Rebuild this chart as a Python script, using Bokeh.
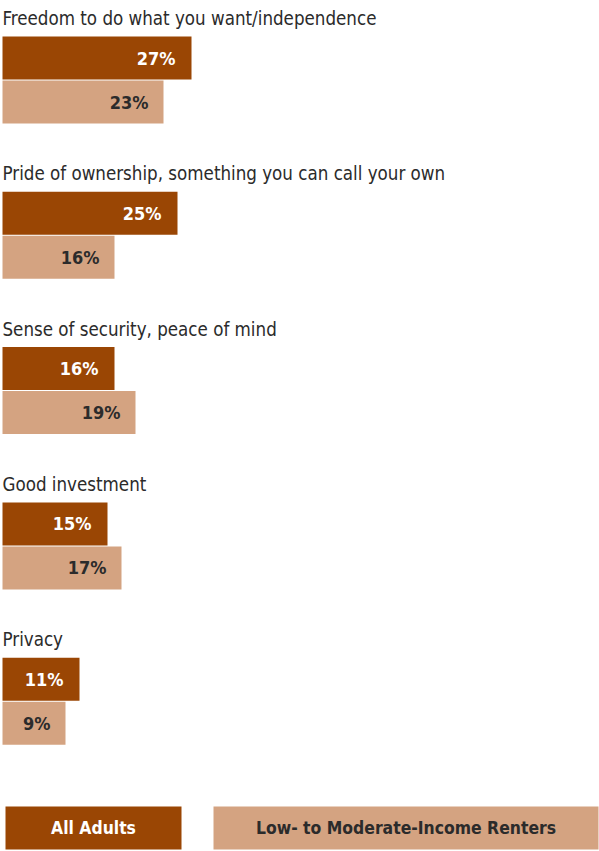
from bokeh.plotting import figure
from bokeh.models import Range1d, ColumnDataSource
from bokeh.core.properties import value
from bokeh.embed import file_html
from bokeh.resources import INLINE

categories = [
    "Freedom to do what you want/independence",
    "Pride of ownership, something you can call your own",
    "Sense of security, peace of mind",
    "Good investment",
    "Privacy",
]
all_adults = [27, 25, 16, 15, 11]
renters = [23, 16, 19, 17, 9]
series_names = ["All Adults", "Low- to Moderate-Income Renters"]

DARK = "#9a4604"
LIGHT = "#d4a381"
TEXT = "#2b2b2b"
FONT = "'DejaVu Sans Condensed', 'Liberation Sans', sans-serif"

W, H = 599, 851
PX_PER_PCT = 7.0
X0 = 2  # pixel where 0% sits


def px(x):
    return (x - X0) / PX_PER_PCT


p = figure(width=W, height=H, output_backend="svg", toolbar_location=None,
           x_range=Range1d(px(0), px(W)), y_range=Range1d(H, 0),
           min_border=0, outline_line_color=None)
p.axis.visible = False
p.grid.visible = False
p.background_fill_color = "white"
p.border_fill_color = "white"

STEP = 155.3
label_y = [18 + i * STEP for i in range(len(categories))]
dark_top = [36 + i * STEP for i in range(len(categories))]
dark_bot = [t + 43 for t in dark_top]
light_top = [t + 44 for t in dark_top]
light_bot = [t + 87 for t in dark_top]

src = ColumnDataSource(dict(
    cat=categories, a=all_adults, r=renters,
    a_lbl=[f"{v}%" for v in all_adults], r_lbl=[f"{v}%" for v in renters],
    ly=label_y, dt=dark_top, db=dark_bot, lt=light_top, lb=light_bot,
    dmid=[(t + b) / 2 for t, b in zip(dark_top, dark_bot)],
    lmid=[(t + b) / 2 for t, b in zip(light_top, light_bot)],
    zero=[0] * len(categories),
))

p.quad(left="zero", right="a", top="dt", bottom="db", source=src,
       fill_color=DARK, line_color=None)
p.quad(left="zero", right="r", top="lt", bottom="lb", source=src,
       fill_color=LIGHT, line_color=None)

p.text(x="zero", y="ly", text="cat", source=src, text_font=value(FONT),
       text_font_size="18.6px", text_color=TEXT, text_baseline="middle",
       text_align="left")
p.text(x="a", y="dmid", text="a_lbl", source=src, text_font=value(FONT),
       text_font_size="18px", text_font_style="bold", text_color="white",
       text_baseline="middle", text_align="right", x_offset=-16)
p.text(x="r", y="lmid", text="r_lbl", source=src, text_font=value(FONT),
       text_font_size="18px", text_font_style="bold", text_color=TEXT,
       text_baseline="middle", text_align="right", x_offset=-15)

# legend boxes
leg = ColumnDataSource(dict(
    l=[px(5), px(213)], r=[px(181), px(598)], t=[806, 806], b=[849, 849],
    cx=[px(93), px(405.5)], cy=[827.5, 827.5], name=series_names,
    fc=[DARK, LIGHT], tc=["white", TEXT],
))
p.quad(left="l", right="r", top="t", bottom="b", source=leg,
       fill_color="fc", line_color=None)
p.text(x="cx", y="cy", text="name", source=leg, text_font=value(FONT),
       text_font_size="17.4px", text_font_style="bold", text_color="tc",
       text_baseline="middle", text_align="center")

open("out.html", "w").write(file_html(p, INLINE))
